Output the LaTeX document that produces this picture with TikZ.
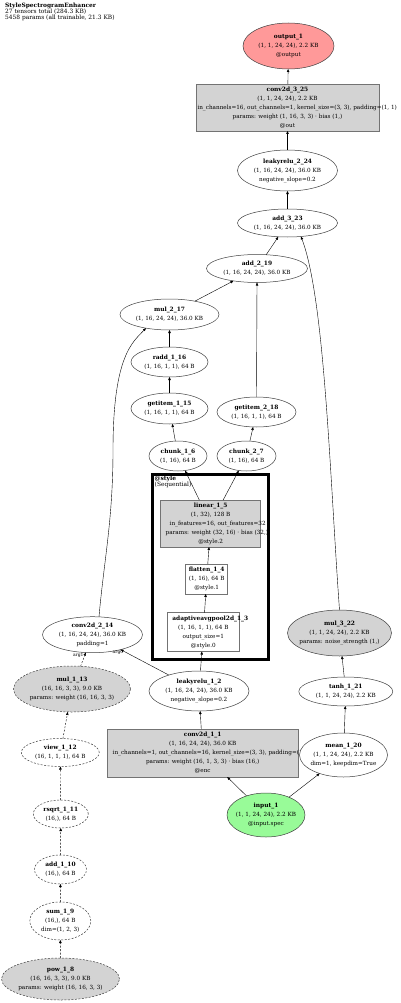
\documentclass[tikz,border=0pt]{standalone}
\usepackage{fontspec}
\setmainfont{DejaVu Serif}
\usetikzlibrary{arrows.meta,shapes.geometric}
\definecolor{outred}{HTML}{FF9999}
\definecolor{ingreen}{HTML}{98FB98}
\definecolor{pgray}{HTML}{D3D3D3}
\newcommand\zl[1]{\makebox[0pt][c]{#1}}
\newcommand\zt[1]{\makebox[0pt][c]{\fontsize{5.9}{9}\selectfont\textbf{#1}}}
\newcommand\zs[2]{\makebox[0pt][l]{\hspace*{#1}#2}}
\begin{document}
\begin{tikzpicture}[x=1pt,y=-1pt,
  nodefont/.style={font=\fontsize{5.7}{9}\selectfont},
  base/.style={nodefont, align=center, inner sep=0pt, outer sep=0pt, line width=0.5pt, text=black},
  ell/.style={base, ellipse, draw=black!75, fill=white},
  box/.style={base, rectangle, draw=black!55, fill=white},
  dsh/.style={dash pattern=on 2pt off 1.5pt},
  conn/.style={-{Triangle[length=3pt,width=2.5pt]}, line width=0.4pt, draw=black},
  dconn/.style={conn, dsh},
  lbl/.style={font=\fontsize{4.5}{5}\selectfont, inner sep=0pt},
  hdr/.style={font=\fontsize{5.9}{6.4}\selectfont, align=left, inner sep=0pt, anchor=north west}
]
\useasboundingbox (0,0) rectangle (400,1003);

% header
\node[hdr] (header) at (5,2.5) {\textbf{StyleSpectrogramEnhancer}\\27 tensors total (284.3 KB)\\5458 params (all trainable, 21.3 KB)};

% cluster
\node[draw=black, line width=2.6pt, inner sep=0pt, minimum width=116.4pt, minimum height=185.4pt] (cluster_style) at (210.5,567) {};
\node[hdr, font=\fontsize{5.9}{6.2}\selectfont] (cluster_label) at (154.5,475.5) {\textbf{@style}\\(Sequential)};

% top column
\node[ell, fill=outred, minimum width=91pt, minimum height=46pt] (output_1) at (288.5,46)
  {\zt{output\_1}\\\zl{(1, 1, 24, 24), 2.2 KB}\\\zl{@output}};
\node[box, fill=pgray, minimum width=183pt, minimum height=47pt] (conv2d_3_25) at (287.5,107.5)
  {\zt{conv2d\_3\_25}\\\zl{(1, 1, 24, 24), 2.2 KB}\\\zs{-90pt}{in\_channels=16, out\_channels=1, kernel\_size=(3, 3), padding=(1, 1)}\\\zl{params: weight (1, 16, 3, 3) · bias (1,)}\\\zl{@out}};
\node[ell, minimum width=100pt, minimum height=41pt] (leakyrelu_2_24) at (287.5,170.5)
  {\zt{leakyrelu\_2\_24}\\\zl{(1, 16, 24, 24), 36.0 KB}\\\zl{negative\_slope=0.2}};
\node[ell, minimum width=100pt, minimum height=28pt] (add_3_23) at (287.5,223)
  {\zt{add\_3\_23}\\\zl{(1, 16, 24, 24), 36.0 KB}};
\node[ell, minimum width=101pt, minimum height=28pt] (add_2_19) at (257,268.5)
  {\zt{add\_2\_19}\\\zl{(1, 16, 24, 24), 36.0 KB}};
\node[ell, minimum width=99pt, minimum height=31pt] (mul_2_17) at (169.5,314.5)
  {\zt{mul\_2\_17}\\\zl{(1, 16, 24, 24), 36.0 KB}};
\node[ell, minimum width=77pt, minimum height=30pt] (radd_1_16) at (169.5,362)
  {\zt{radd\_1\_16}\\\zl{(1, 16, 1, 1), 64 B}};
\node[ell, minimum width=77pt, minimum height=31pt] (getitem_1_15) at (169.5,408.5)
  {\zt{getitem\_1\_15}\\\zl{(1, 16, 1, 1), 64 B}};
\node[ell, minimum width=79pt, minimum height=30pt] (getitem_2_18) at (256.5,412)
  {\zt{getitem\_2\_18}\\\zl{(1, 16, 1, 1), 64 B}};
\node[ell, minimum width=58pt, minimum height=30pt] (chunk_1_6) at (178,456)
  {\zt{chunk\_1\_6}\\\zl{(1, 16), 64 B}};
\node[ell, minimum width=59pt, minimum height=30pt] (chunk_2_7) at (246.5,456)
  {\zt{chunk\_2\_7}\\\zl{(1, 16), 64 B}};

% inside cluster
\node[box, fill=pgray, minimum width=100pt, minimum height=47pt] (linear_1_5) at (210.7,523.5)
  {\zt{linear\_1\_5}\\\zl{(1, 32), 128 B}\\\zs{-41pt}{in\_features=16, out\_features=32}\\\zs{-45pt}{params: weight (32, 16) · bias (32,)}\\\zl{@style.2}};
\node[box, minimum width=42pt, minimum height=30pt] (flatten_1_4) at (206.7,579)
  {\zt{flatten\_1\_4}\\\zl{(1, 16), 64 B}\\\zl{@style.1}};
\node[box, minimum width=72pt, minimum height=39pt] (adaptiveavgpool2d_1_3) at (203.3,632)
  {\zs{-31pt}{\fontsize{5.9}{9}\selectfont\textbf{adaptiveavgpool2d\_1\_3}}\\\zl{(1, 16, 1, 1), 64 B}\\\zl{output\_size=1}\\\zl{@style.0}};

% lower middle
\node[ell, minimum width=100pt, minimum height=40pt] (leakyrelu_1_2) at (199,691)
  {\zt{leakyrelu\_1\_2}\\\zl{(1, 16, 24, 24), 36.0 KB}\\\zl{negative\_slope=0.2}};
\node[box, fill=pgray, minimum width=191pt, minimum height=48pt] (conv2d_1_1) at (202.7,753)
  {\zt{conv2d\_1\_1}\\\zl{(1, 16, 24, 24), 36.0 KB}\\\zs{-90pt}{in\_channels=1, out\_channels=16, kernel\_size=(3, 3), padding=(1, 1)}\\\zl{params: weight (16, 1, 3, 3) · bias (16,)}\\\zl{@enc}};
\node[ell, minimum width=88pt, minimum height=44pt] (mean_1_20) at (343.5,755)
  {\zt{mean\_1\_20}\\\zl{(1, 1, 24, 24), 2.2 KB}\\\zl{dim=1, keepdim=True}};
\node[ell, minimum width=94pt, minimum height=29pt] (tanh_1_21) at (345.8,691.5)
  {\zt{tanh\_1\_21}\\\zl{(1, 1, 24, 24), 2.2 KB}};
\node[ell, fill=pgray, minimum width=104pt, minimum height=46pt] (mul_3_22) at (339.5,633)
  {\zt{mul\_3\_22}\\\zl{(1, 1, 24, 24), 2.2 KB}\\\zl{params: noise\_strength (1,)}};
\node[ell, fill=ingreen, minimum width=78pt, minimum height=44pt] (input_1) at (266,815)
  {\zt{input\_1}\\\zl{(1, 1, 24, 24), 2.2 KB}\\\zl{@input.spec}};

% left column
\node[ell, minimum width=100pt, minimum height=36pt] (conv2d_2_14) at (92.5,634.7)
  {\zt{conv2d\_2\_14}\\\zl{(1, 16, 24, 24), 36.0 KB}\\\zl{padding=1}};
\node[ell, dsh, fill=pgray, minimum width=117pt, minimum height=46pt] (mul_1_13) at (72,689)
  {\zt{mul\_1\_13}\\\zl{(16, 16, 3, 3), 9.0 KB}\\\zl{params: weight (16, 16, 3, 3)}};
\node[ell, dsh, minimum width=78pt, minimum height=28pt] (view_1_12) at (60.3,752.5)
  {\zt{view\_1\_12}\\\zl{(16, 1, 1, 1), 64 B}};
\node[ell, dsh, minimum width=55pt, minimum height=28pt] (rsqrt_1_11) at (60.8,814)
  {\zt{rsqrt\_1\_11}\\\zl{(16,), 64 B}};
\node[ell, dsh, minimum width=52pt, minimum height=29pt] (add_1_10) at (60.5,869.5)
  {\zt{add\_1\_10}\\\zl{(16,), 64 B}};
\node[ell, dsh, minimum width=61pt, minimum height=38pt] (sum_1_9) at (60.3,921)
  {\zt{sum\_1\_9}\\\zl{(16,), 64 B}\\\zl{dim=(1, 2, 3)}};
\node[ell, dsh, fill=pgray, minimum width=118pt, minimum height=42pt] (pow_1_8) at (60.5,979)
  {\zt{pow\_1\_8}\\\zl{(16, 16, 3, 3), 9.0 KB}\\\zl{params: weight (16, 16, 3, 3)}};

% edge labels
\node[lbl] (lbl_arg1) at (78.3,655.3) {arg1};
\node[lbl] (lbl_arg0) at (118,652) {arg0};

% connectors
\draw[conn] (conv2d_3_25) -- (output_1);
\draw[conn] (leakyrelu_2_24) -- (conv2d_3_25);
\draw[conn] (add_3_23) -- (leakyrelu_2_24);
\draw[conn] (add_2_19) -- (add_3_23);
\draw[conn] (mul_3_22.north) .. controls (330,480) and (325,300) .. (add_3_23.-45);
\draw[conn] (mul_2_17) -- (add_2_19);
\draw[conn] (getitem_2_18.north) -- (add_2_19.south);
\draw[conn] (radd_1_16) -- (mul_2_17);
\draw[conn] (conv2d_2_14.70) .. controls (104,560) and (113,520) .. (113,450)
  .. controls (113,355) and (133,342) .. (mul_2_17.210);
\draw[conn] (getitem_1_15) -- (radd_1_16);
\draw[conn] (chunk_1_6) -- (getitem_1_15);
\draw[conn] (chunk_2_7) -- (getitem_2_18);
\draw[conn] (linear_1_5) -- (chunk_1_6);
\draw[conn] (linear_1_5) -- (chunk_2_7);
\draw[conn] (flatten_1_4) -- (linear_1_5);
\draw[conn] (adaptiveavgpool2d_1_3) -- (flatten_1_4);
\draw[conn] (leakyrelu_1_2) -- (adaptiveavgpool2d_1_3);
\draw[conn] (leakyrelu_1_2) -- (conv2d_2_14);
\draw[dconn] (mul_1_13) -- (conv2d_2_14);
\draw[conn] (conv2d_1_1) -- (leakyrelu_1_2);
\draw[conn] (input_1) -- (conv2d_1_1);
\draw[conn] (input_1) -- (mean_1_20);
\draw[conn] (mean_1_20) -- (tanh_1_21);
\draw[conn] (tanh_1_21) -- (mul_3_22);
\draw[dconn] (view_1_12) -- (mul_1_13);
\draw[dconn] (rsqrt_1_11) -- (view_1_12);
\draw[dconn] (add_1_10) -- (rsqrt_1_11);
\draw[dconn] (sum_1_9) -- (add_1_10);
\draw[dconn] (pow_1_8) -- (sum_1_9);
\end{tikzpicture}
\end{document}
